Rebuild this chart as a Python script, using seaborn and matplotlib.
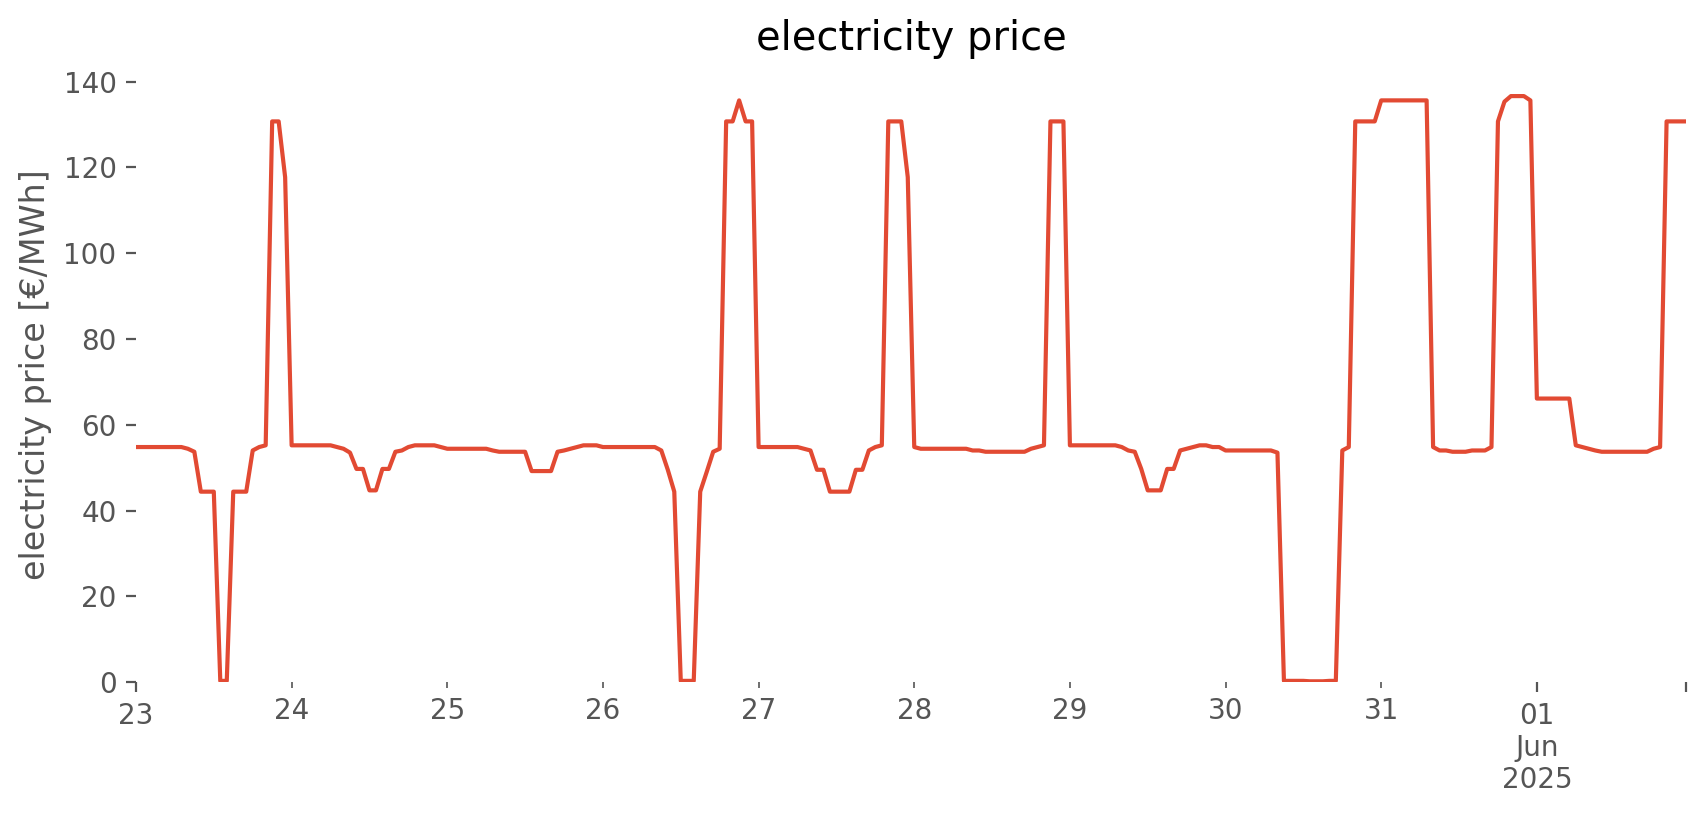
import pandas as pd
import matplotlib
matplotlib.use("Agg")
import matplotlib.pyplot as plt
import matplotlib.dates as mdates
from matplotlib.ticker import FixedLocator, FixedFormatter, NullLocator
import seaborn as sns

# hourly electricity price [€/MWh], one list per day (00:00 .. 23:00)
may23 = [54.8, 54.8, 54.8, 54.8, 54.8, 54.8, 54.8, 54.8, 54.4, 53.7, 44.4, 44.4,
         44.4, 0.3, 0.3, 44.4, 44.4, 44.4, 54.0, 54.8, 55.2, 130.7, 130.7, 117.7]
may24 = [55.2, 55.2, 55.2, 55.2, 55.2, 55.2, 55.2, 54.8, 54.4, 53.5, 49.7, 49.7,
         44.7, 44.7, 49.7, 49.7, 53.7, 54.0, 54.8, 55.2, 55.2, 55.2, 55.2, 54.8]
may25 = [54.4, 54.4, 54.4, 54.4, 54.4, 54.4, 54.4, 54.0, 53.7, 53.7, 53.7, 53.7,
         53.7, 49.2, 49.2, 49.2, 49.2, 53.7, 54.0, 54.4, 54.8, 55.2, 55.2, 55.2]
may26 = [54.8, 54.8, 54.8, 54.8, 54.8, 54.8, 54.8, 54.8, 54.8, 54.0, 49.5, 44.4,
         0.3, 0.3, 0.3, 44.4, 49.0, 53.7, 54.4, 130.7, 130.7, 135.6, 130.7, 130.7]
may27 = [54.8, 54.8, 54.8, 54.8, 54.8, 54.8, 54.8, 54.4, 54.0, 49.5, 49.5, 44.4,
         44.4, 44.4, 44.4, 49.5, 49.5, 54.0, 54.8, 55.2, 130.7, 130.7, 130.7, 117.7]
may28 = [54.8, 54.4, 54.4, 54.4, 54.4, 54.4, 54.4, 54.4, 54.4, 54.0, 54.0, 53.7,
         53.7, 53.7, 53.7, 53.7, 53.7, 53.7, 54.4, 54.8, 55.2, 130.7, 130.7, 130.7]
may29 = [55.2, 55.2, 55.2, 55.2, 55.2, 55.2, 55.2, 55.2, 54.8, 54.0, 53.7, 49.7,
         44.7, 44.7, 44.7, 49.7, 49.7, 54.0, 54.4, 54.8, 55.2, 55.2, 54.8, 54.8]
may30 = [54.0, 54.0, 54.0, 54.0, 54.0, 54.0, 54.0, 54.0, 53.5, 0.3, 0.3, 0.3,
         0.3, 0.2, 0.2, 0.2, 0.3, 0.3, 54.0, 54.8, 130.7, 130.7, 130.7, 130.7]
may31 = [135.6, 135.6, 135.6, 135.6, 135.6, 135.6, 135.6, 135.6, 54.8, 54.0, 54.0, 53.7,
         53.7, 53.7, 54.0, 54.0, 54.0, 54.8, 130.7, 135.3, 136.6, 136.6, 136.6, 135.6]
jun01 = [66.1, 66.1, 66.1, 66.1, 66.1, 66.1, 55.2, 54.8, 54.4, 54.0, 53.7, 53.7,
         53.7, 53.7, 53.7, 53.7, 53.7, 53.7, 54.4, 54.8, 130.7, 130.7, 130.7, 130.7]

prices = may23 + may24 + may25 + may26 + may27 + may28 + may29 + may30 + may31 + jun01
times = pd.date_range("2025-05-23 00:00", periods=len(prices), freq="h")

major_ticks = ["2025-05-23 00:00", "2025-06-01 00:00", "2025-06-01 23:00"]
major_labels = ["23", "01\nJun\n2025", ""]
minor_ticks = ["2025-05-24", "2025-05-25", "2025-05-26", "2025-05-27",
               "2025-05-28", "2025-05-29", "2025-05-30", "2025-05-31"]
minor_labels = ["24", "25", "26", "27", "28", "29", "30", "31"]

df = pd.DataFrame({"time": times, "price": prices})

sns.set_theme(style="white", rc={
    "xtick.bottom": True, "ytick.left": True,
    "xtick.color": "#555555", "ytick.color": "#555555",
    "axes.labelcolor": "#555555",
    "xtick.labelsize": 10, "ytick.labelsize": 10,
    "axes.labelsize": 12, "axes.titlesize": 14.4,
})
plt.rcParams["font.family"] = ["DejaVu Sans"]

fig, ax = plt.subplots(figsize=(8.53, 4.075), dpi=200)
fig.subplots_adjust(left=0.0797, right=0.9883, top=0.918, bottom=0.163)

sns.lineplot(data=df, x="time", y="price", color="#E24A33", linewidth=1.5, ax=ax)

ax.set_xlim(times[0], times[-1])
ax.set_ylim(bottom=0)

ax.xaxis.set_major_locator(FixedLocator(mdates.date2num(pd.to_datetime(major_ticks))))
ax.xaxis.set_major_formatter(FixedFormatter(major_labels))
ax.xaxis.set_minor_locator(FixedLocator(mdates.date2num(pd.to_datetime(minor_ticks))))
ax.xaxis.set_minor_formatter(FixedFormatter(minor_labels))
ax.yaxis.set_minor_locator(NullLocator())
ax.set_yticks([0, 20, 40, 60, 80, 100, 120, 140])

ax.tick_params(axis="x", which="major", length=3.5, width=0.8, labelsize=10)
ax.tick_params(axis="x", which="minor", length=2, width=0.6, labelsize=10)
ax.tick_params(axis="y", length=3.5, width=0.8)

ax.set_xlabel("")
ax.set_ylabel("electricity price [€/MWh]")
ax.set_title("electricity price", color="black")
sns.despine(ax=ax, left=True, bottom=True, top=True, right=True)

fig.savefig("out.png", dpi=200)
